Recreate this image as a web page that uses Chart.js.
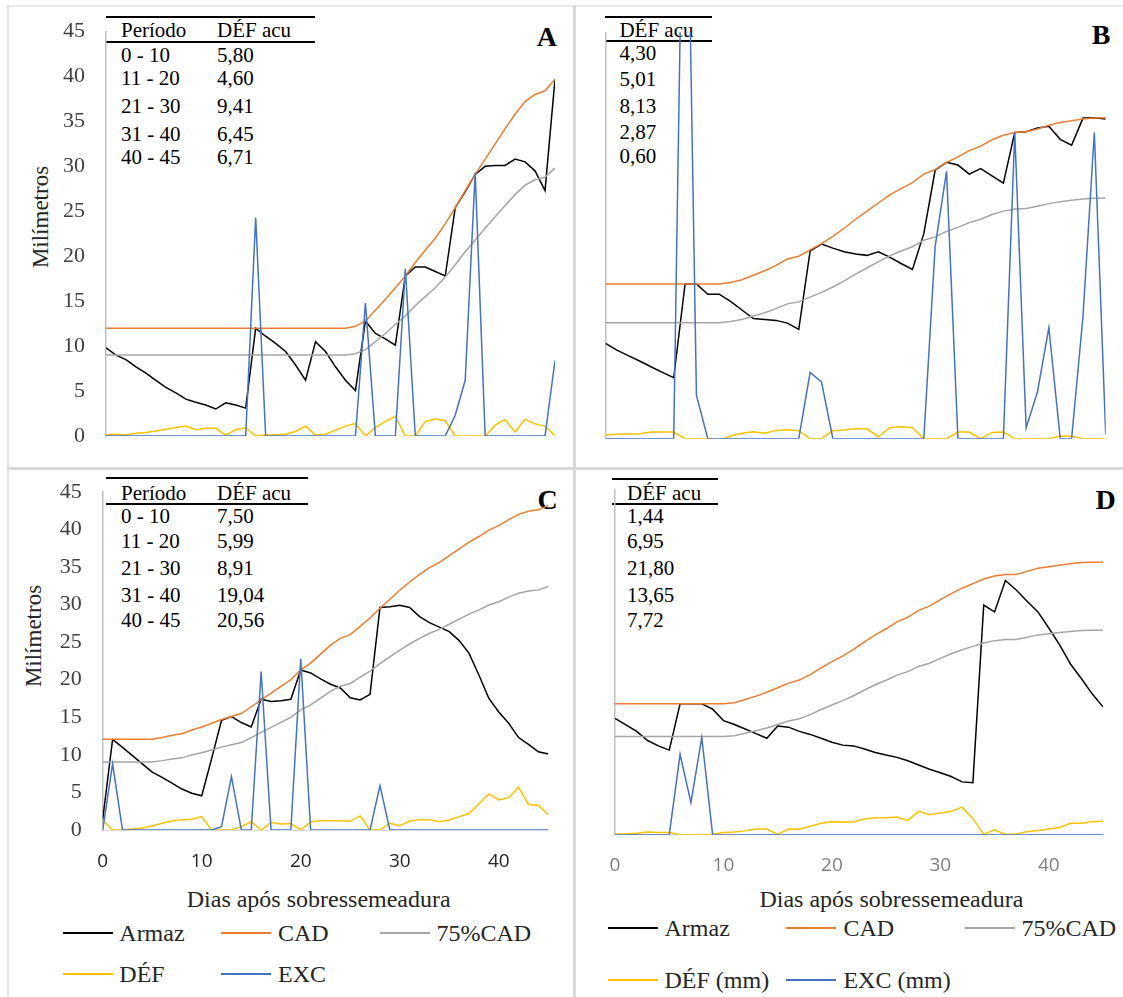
<!DOCTYPE html>
<html><head><meta charset="utf-8">
<script src="https://cdn.jsdelivr.net/npm/chart.js@4.4.1/dist/chart.umd.min.js"></script>
<style>
html,body{margin:0;padding:0;background:#fff;}
body{width:1123px;height:997px;position:relative;overflow:hidden;font-family:"Liberation Serif","Times New Roman","Times","Tinos","DejaVu Serif","Noto Serif",serif;}
canvas{position:absolute;z-index:2;}
.t{position:absolute;white-space:nowrap;line-height:1;transform:translateY(-50%);z-index:1;color:#000;font-family:"Liberation Serif","Times New Roman","Times","Tinos","DejaVu Serif","Noto Serif",serif;}
.hl{position:absolute;height:2px;background:#000;z-index:1;}
.fr{position:absolute;z-index:0;}
</style></head><body>
<div class="fr" style="left:8px;top:5px;width:1115px;height:2px;background:#e8e8e8"></div>
<div class="fr" style="left:7px;top:5px;width:2px;height:992px;background:#e2e2e2"></div>
<div class="fr" style="left:573px;top:5px;width:3px;height:992px;background:#d9d9d9"></div>
<div class="fr" style="left:7px;top:467px;width:1116px;height:3px;background:#d9d9d9"></div>
<script>
// ---------------- data ----------------
const days46 = [0,1,2,3,4,5,6,7,8,9,10,11,12,13,14,15,16,17,18,19,20,21,22,23,24,25,26,27,28,29,30,31,32,33,34,35,36,37,38,39,40,41,42,43,44,45];
const days45 = [0,1,2,3,4,5,6,7,8,9,10,11,12,13,14,15,16,17,18,19,20,21,22,23,24,25,26,27,28,29,30,31,32,33,34,35,36,37,38,39,40,41,42,43,44];
const yTickValues = [0,5,10,15,20,25,30,35,40,45];
const xTickValues = [0,10,20,30,40];
const seriesNames = ['Armaz','CAD','75%CAD','DÉF','EXC'];
const seriesNamesD = ['Armaz','CAD','75%CAD','DÉF (mm)','EXC (mm)'];
const seriesColors = ['#000000','#ED7D31','#A5A5A5','#FFC000','#4472C4'];

// Panel A
const armazA = [9.8,9.0,8.5,7.7,7.0,6.2,5.4,4.8,4.1,3.75,3.45,3.0,3.7,3.45,3.1,12.0,11.1,10.3,9.4,7.9,6.2,10.5,9.4,7.7,6.2,5.05,12.8,11.4,10.8,10.1,17.8,18.8,18.8,18.3,17.8,25.4,27.2,29.1,30.0,30.1,30.1,30.8,30.5,29.5,27.3,39.7];
const cadA = [12,12,12,12,12,12,12,12,12,12,12,12,12,12,12,12,12,12,12,12,12,12,12,12,12,12.2,12.8,14.0,15.2,16.5,17.8,19.3,20.7,22.0,23.6,25.4,27.3,29.1,30.8,32.5,34.2,35.8,37.2,38.0,38.4,39.7];
const p75A = [9,9,9,9,9,9,9,9,9,9,9,9,9,9,9,9,9,9,9,9,9,9,9,9,9,9.15,9.6,10.5,11.4,12.4,13.35,14.5,15.5,16.5,17.7,19.05,20.5,21.8,23.1,24.4,25.65,26.85,27.9,28.5,28.8,29.8];
const defA = [0.15,0.2,0.1,0.3,0.4,0.55,0.75,0.95,1.1,0.7,0.85,0.85,0.1,0.7,0.95,0,0.1,0.15,0.2,0.5,1.1,0.1,0.2,0.65,1.1,1.4,0,0.95,1.6,2.2,0,0,1.6,1.9,1.7,0,0,0,0,1.2,1.85,0.45,1.85,1.35,1.1,0.05];
const excA = [0,0,0,0,0,0,0,0,0,0,0,0,0,0,0,24.3,0,0,0,0,0,0,0,0,0,0,14.8,0,0,0,18.6,0,0,0,0,2.3,6.2,29.3,0,0,0,0,0,0,0,8.4];

// Panel B
const armazB = [10.56,9.8,9.2,8.6,7.97,7.35,6.75,17.13,17.13,16.0,16.0,15.2,14.25,13.3,13.2,13.1,12.8,12.1,20.8,21.55,21.1,20.7,20.45,20.3,20.7,20.1,19.4,18.75,22.7,29.75,30.6,30.3,29.3,29.9,29.1,28.3,33.9,34.0,34.4,34.6,33.15,32.5,35.5,35.55,35.4];
const cadB = [17.13,17.13,17.13,17.13,17.13,17.13,17.13,17.13,17.13,17.13,17.13,17.3,17.6,18.1,18.6,19.2,19.9,20.2,20.9,21.6,22.4,23.3,24.3,25.2,26.1,27.0,27.7,28.35,29.3,29.8,30.6,31.2,31.9,32.4,33.1,33.6,33.9,34.0,34.3,34.7,35.0,35.2,35.4,35.5,35.55];
const p75B = [12.85,12.85,12.85,12.85,12.85,12.85,12.85,12.85,12.85,12.85,12.85,12.98,13.2,13.58,13.95,14.4,14.93,15.15,15.68,16.2,16.8,17.48,18.23,18.9,19.58,20.25,20.78,21.26,21.98,22.35,22.95,23.4,23.93,24.3,24.83,25.2,25.43,25.5,25.73,26.03,26.25,26.4,26.55,26.63,26.66];
const defB = [0.4,0.48,0.52,0.55,0.74,0.74,0.74,0,0,0,-0.2,0.3,0.6,0.78,0.6,0.92,1.0,0.89,0,0,0.89,0.96,1.14,1.07,0.22,1.22,1.33,1.22,0,0,0,0.74,0.74,0,0.7,0.74,0,0,0,0,0.3,0.26,0,0,0];
const excB = [0,0,0,0,0,0,0,80,4.8,0,0,0,0,0,0,0,0,0,7.35,6.3,0,0,0,0,0,0,0,0,0,21.3,29.6,0,0,0,0,0,33.9,1.2,5.2,12.3,0,0,13.5,33.9,0.5];

// Panel C
const armazC = [1.4,12.06,11.0,9.9,8.8,7.7,7.0,6.25,5.45,4.9,4.55,9.5,14.6,15.1,14.3,13.7,17.4,17.1,17.2,17.4,21.3,20.9,20.1,19.4,18.9,17.6,17.3,18.05,29.6,29.7,29.9,29.6,28.4,27.6,27.0,26.4,25.2,23.5,20.6,17.5,15.7,14.2,12.3,11.4,10.4,10.1];
const cadC = [12.06,12.06,12.06,12.06,12.06,12.06,12.3,12.6,12.8,13.3,13.7,14.2,14.7,15.1,15.5,16.4,17.3,18.2,19.1,20.0,21.3,22.2,23.4,24.6,25.5,26.0,27.1,28.2,29.5,30.7,31.9,33.0,34.0,34.9,35.6,36.5,37.4,38.3,39.05,39.9,40.5,41.3,42.0,42.4,42.6,43.2];
const p75C = [9.05,9.05,9.05,9.05,9.05,9.05,9.23,9.45,9.6,9.98,10.28,10.65,11.03,11.33,11.63,12.3,12.98,13.65,14.33,15.0,15.98,16.65,17.55,18.45,19.13,19.5,20.33,21.15,22.13,23.03,23.93,24.75,25.5,26.18,26.7,27.38,28.05,28.73,29.29,29.93,30.38,30.98,31.5,31.8,31.95,32.4];
const defC = [1.33,0,0,0.13,0.27,0.53,0.9,1.2,1.38,1.42,1.78,0,0,0,0.45,1.1,0,1.0,0.8,0.85,0,1.07,1.24,1.24,1.24,1.15,1.87,0,0,0.9,0.58,1.2,1.38,1.38,1.1,1.33,1.78,2.2,3.5,4.8,4.0,4.3,5.7,3.4,3.3,2.0];
const excC = [0,8.8,0,0,0,0,0,0,0,0,0,0,0.45,7.1,0,0,21.1,0,0,0,22.8,0,0,0,0,0,0,0,5.9,0,0,0,0,0,0,0,0,0,0,0,0,0,0,0,0,0];

// Panel D
const armazD = [15.2,14.35,13.5,12.3,11.6,11.05,17.1,17.1,17.1,16.4,14.9,14.4,13.8,13.2,12.6,14.2,14.05,13.5,13.1,12.6,12.07,11.7,11.6,11.2,10.75,10.4,10.1,9.66,9.1,8.56,8.1,7.6,6.9,6.8,30.0,29.1,33.2,31.96,30.5,29.1,27.0,24.8,22.3,20.4,18.4,16.7];
const cadD = [17.12,17.12,17.12,17.12,17.12,17.12,17.12,17.12,17.12,17.12,17.12,17.25,17.65,18.1,18.6,19.2,19.8,20.2,20.9,21.8,22.6,23.35,24.2,25.2,26.1,26.9,27.8,28.4,29.3,29.85,30.7,31.5,32.2,32.8,33.4,33.8,34.0,34.0,34.4,34.8,35.0,35.2,35.4,35.55,35.6,35.6];
const p75D = [12.84,12.84,12.84,12.84,12.84,12.84,12.84,12.84,12.84,12.84,12.84,12.94,13.24,13.58,13.95,14.4,14.85,15.15,15.68,16.35,16.95,17.51,18.15,18.9,19.58,20.18,20.85,21.3,21.98,22.39,23.03,23.63,24.15,24.6,25.05,25.35,25.5,25.5,25.8,26.1,26.25,26.4,26.55,26.66,26.7,26.7];
const defD = [0.1,0.13,0.2,0.35,0.3,0.3,0,0,0,0.05,0.3,0.35,0.5,0.75,0.75,0.05,0.75,0.7,1.1,1.5,1.7,1.65,1.65,2.05,2.2,2.2,2.3,1.87,3.05,2.6,2.83,3.05,3.6,2.1,0.05,0.65,0.05,0.1,0.4,0.55,0.75,0.95,1.5,1.5,1.7,1.75];
const excD = [0,0,0,0,0,0,10.5,4.2,12.7,0,0,0,0,0,0,0,0,0,0,0,0,0,0,0,0,0,0,0,0,0,0,0,0,0,0,0,0,0,0,0,0,0,0,0,0,0];

// Tables (text)
const periodos = ['0 - 10','11 - 20','21 - 30','31 - 40','40 - 45'];
const defAcuA = ['5,80','4,60','9,41','6,45','6,71'];
const defAcuB = ['4,30','5,01','8,13','2,87','0,60'];
const defAcuC = ['7,50','5,99','8,91','19,04','20,56'];
const defAcuD = ['1,44','6,95','21,80','13,65','7,72'];

const SERIF = '"Liberation Serif", "Times New Roman", Times, Tinos, "DejaVu Serif", serif';

// ---------------- helpers ----------------
function txt(s, x, y, size, opts) {
  opts = opts || {};
  const d = document.createElement('div');
  d.className = 't';
  d.textContent = s;
  d.style.left = x + 'px';
  d.style.top = y + 'px';
  d.style.fontSize = size + 'px';
  if (opts.bold) d.style.fontWeight = 'bold';
  if (opts.color) d.style.color = opts.color;
  if (opts.center) d.style.transform = 'translate(-50%,-50%)';
  if (opts.rot) d.style.transform = 'translate(-50%,-50%) rotate(-90deg)';
  document.body.appendChild(d);
  return d;
}
function hline(x, y, w, h, color) {
  const d = document.createElement('div');
  d.className = 'hl';
  d.style.left = x + 'px'; d.style.top = y + 'px'; d.style.width = w + 'px';
  d.style.height = (h || 2) + 'px';
  d.style.background = color || '#000';
  document.body.appendChild(d);
}

function panel(box, labels, series, names, o) {
  const cv = document.createElement('canvas');
  cv.width = box.w; cv.height = box.h;
  cv.style.left = box.x + 'px'; cv.style.top = box.y + 'px';
  document.body.appendChild(cv);
  return new Chart(cv, {
    type: 'line',
    data: {
      labels: labels,
      datasets: series.map((d, i) => ({
        label: names[i], data: d,
        borderColor: seriesColors[i], backgroundColor: seriesColors[i],
        borderWidth: 1.5, pointRadius: 0, pointHoverRadius: 0, tension: 0, fill: false,
        order: 5 - i
      }))
    },
    options: {
      responsive: false, animation: false, devicePixelRatio: 1,
      layout: { padding: o.pad },
      plugins: { legend: { display: false }, tooltip: { enabled: false } },
      scales: {
        x: {
          type: 'linear', min: 0, max: labels[labels.length - 1],
          display: o.showX,
          grid: { display: false, drawTicks: false },
          border: { display: true, color: '#d9d9d9', width: 1 },
          ticks: { includeBounds: false, padding: o.xPad || 20, color: o.xColor || '#404040',
                   font: { family: '"Open Sans", sans-serif', size: 19 } },
          afterBuildTicks: s => { s.ticks = xTickValues.map(v => ({ value: v })); },
          afterFit: s => { s.height = o.hx || 0; }
        },
        y: {
          min: 0, max: 45,
          grid: { display: false, drawTicks: false },
          border: { display: true, color: '#bfbfbf', width: 1.5 },
          ticks: { display: o.showY, padding: 21, color: '#404040',
                   font: { family: SERIF, size: 22 } },
          afterBuildTicks: s => { s.ticks = yTickValues.map(v => ({ value: v })); },
          afterFit: s => { s.width = o.wy; }
        }
      }
    }
  });
}

// ---------------- tables / texts ----------------
const TS = 21;
// A
hline(106, 15.7, 209); hline(106, 40.7, 209);
txt('Período', 121, 30, TS); txt('DÉF acu', 217, 30, TS);
[55, 78.3, 106, 134.3, 157.3].forEach((y, i) => { txt(periodos[i], 121, y, TS); txt(defAcuA[i], 217, y, TS); });
// B
hline(605.3, 15.7, 106.5); hline(605.3, 40, 106.5);
txt('DÉF acu', 619.4, 30, TS);
[53.3, 79, 105.7, 132.3, 156].forEach((y, i) => { txt(defAcuB[i], 619.4, y, TS); });
// C
hline(106, 477.4, 202); hline(106, 502.6, 202);
txt('Período', 121, 492.9, TS); txt('DÉF acu', 217, 492.9, TS);
[516.4, 540.6, 567.5, 595, 619.6].forEach((y, i) => { txt(periodos[i], 121, y, TS); txt(defAcuC[i], 217, y, TS); });
// D
hline(612.3, 478, 105.7); hline(612.3, 502.6, 105.7);
txt('DÉF acu', 627.1, 492.9, TS);
[516.4, 540.6, 567.5, 595, 619.6].forEach((y, i) => { txt(defAcuD[i], 627.1, y, TS); });

// panel letters
txt('A', 536.7, 37, 28, {bold:true});
txt('B', 1091.7, 35, 28, {bold:true});
txt('C', 537.5, 499.6, 28, {bold:true});
txt('D', 1095.6, 499.6, 28, {bold:true});

// axis titles
txt('Milímetros', 39.5, 216.5, 23, {rot:true, color:'#262626'});
txt('Milímetros', 32.7, 636, 23, {rot:true, color:'#262626'});
txt('Dias após sobressemeadura', 318.7, 898.6, 24, {center:true, color:'#262626'});
txt('Dias após sobressemeadura', 891.4, 898.6, 24, {center:true, color:'#262626'});

// legends
function legend(names, lineX, textX, rows) {
  const pos = [[0,0],[0,1],[0,2],[1,0],[1,1]];
  names.forEach((n, i) => {
    const r = pos[i][0], c = pos[i][1];
    hline(lineX[c], rows[r] - 1, 50, 2, seriesColors[i]);
    txt(n, textX[c], rows[r], 24, {color:'#262626'});
  });
}
legend(seriesNames, [62.5, 221, 380], [119.3, 278, 436.4], [933, 974]);
legend(seriesNamesD, [608, 786, 965], [664.5, 843.4, 1021.5], [928.3, 980]);

// ---------------- charts ----------------
// Plot areas: A x106-555 y31.5-436 ; B x605.5-1105.7 y32.3-438.7 ; C x102.7-548.3 y491.8-830 ; D x609.3-1103 y490.2-834.7
function drawAll() {
  panel({x:40, y:-5, w:525, h:477}, days46, [armazA, cadA, p75A, defA, excA], seriesNames,
    {pad:{left:0, right:10, top:36.5, bottom:36}, showX:false, showY:true, wy:66});
  panel({x:590, y:20, w:525, h:430}, days45, [armazB, cadB, p75B, defB, excB], seriesNames,
    {pad:{left:0, right:9.3, top:12.3, bottom:11.3}, showX:false, showY:false, wy:15.5});
  panel({x:40, y:456, w:520, h:424}, days46, [armazC, cadC, p75C, defC, excC], seriesNames,
    {pad:{left:0, right:11.7, top:35.8, bottom:0}, showX:true, showY:true, wy:62.7, hx:50, xPad:20.3, xColor:'#262626'});
  panel({x:590, y:476, w:525, h:404}, days46, [armazD, cadD, p75D, defD, excD], seriesNamesD,
    {pad:{left:0, right:12, top:14.2, bottom:0}, showX:true, showY:false, wy:19.3, hx:45.3, xPad:19.6, xColor:'#7f7f7f'});
}
if (document.fonts && document.fonts.load) {
  Promise.all([
    document.fonts.load('22px "Liberation Serif"'),
    document.fonts.load('19px "Open Sans"')
  ]).then(drawAll, drawAll);
} else { drawAll(); }
</script>
</body></html>
